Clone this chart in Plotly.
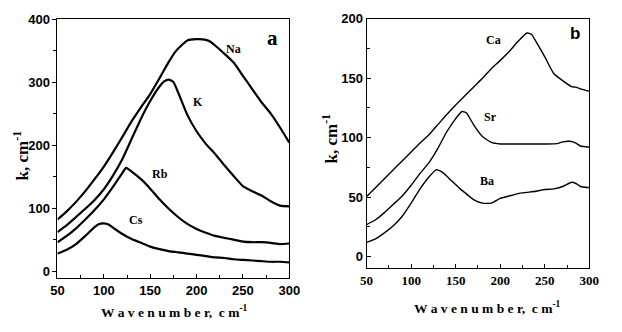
import plotly.graph_objects as go

# ---- panel a data ----
na_x = [50, 60, 70, 80, 90, 100, 110, 120, 130, 140, 150, 160, 170, 177, 185, 190, 200, 210, 215, 220, 230, 240, 250, 260, 270, 280, 290, 300]
na_y = [82, 95, 110, 127, 146, 166, 189, 213, 238, 260, 281, 306, 332, 348, 360, 366, 368, 367, 364, 358, 345, 331, 310, 289, 268, 250, 228, 204]

k_x = [50, 60, 70, 80, 90, 100, 110, 120, 130, 140, 150, 160, 165, 170, 175, 180, 190, 200, 210, 220, 230, 240, 250, 260, 270, 280, 290, 300]
k_y = [62, 73, 86, 99, 113, 130, 152, 178, 210, 242, 270, 293, 301, 304, 300, 284, 248, 222, 202, 186, 168, 151, 135, 127, 120, 111, 104, 103]

rb_x = [50, 60, 70, 80, 90, 100, 110, 120, 124, 130, 140, 150, 160, 170, 180, 190, 200, 210, 220, 230, 240, 250, 260, 270, 280, 290, 300]
rb_y = [46, 56, 68, 82, 97, 114, 134, 156, 164, 158, 146, 131, 114, 99, 86, 75, 67, 61, 56, 53, 50, 47, 46, 46, 45, 43, 44]

cs_x = [50, 60, 70, 80, 90, 95, 100, 105, 110, 120, 130, 140, 150, 160, 170, 180, 190, 200, 210, 220, 230, 240, 250, 260, 270, 280, 290, 300]
cs_y = [28, 34, 43, 56, 70, 75, 76, 74, 69, 59, 51, 45, 39, 35, 32, 30, 28, 26, 24, 22, 21, 19, 18, 17, 16, 15, 15, 14]

# ---- panel b data ----
ca_x = [50, 60, 70, 80, 90, 100, 110, 120, 130, 140, 150, 160, 170, 180, 190, 200, 210, 220, 230, 235, 240, 250, 260, 270, 280, 285, 290, 300]
ca_y = [50.5, 58, 65.5, 73, 80.5, 88, 95.5, 102.5, 111, 119.5, 127.5, 135, 142.5, 150, 158, 165, 172.5, 181, 188, 187, 181, 168, 154, 148, 143, 142.5, 141, 139]

sr_x = [50, 60, 70, 80, 90, 100, 110, 120, 130, 140, 150, 157, 162, 170, 180, 190, 200, 210, 230, 250, 264, 270, 278, 285, 290, 300]
sr_y = [27, 31, 37, 44, 51, 60, 70, 79, 91, 105, 116, 122, 121, 111, 101, 96, 94.7, 94.7, 94.7, 94.7, 95, 96.5, 97, 95.5, 93, 92]

ba_x = [50, 60, 70, 80, 90, 100, 110, 120, 128, 135, 145, 155, 160, 170, 180, 190, 200, 210, 220, 230, 240, 250, 260, 270, 280, 285, 290, 300]
ba_y = [12, 15, 20, 26, 34, 45, 57, 67, 73, 71, 64, 57, 54, 48, 45, 45, 49, 51, 53, 54, 55, 56.5, 57, 59, 62.5, 61.5, 59, 58]

tick_vals_a = [0, 100, 200, 300, 400]
tick_vals_b = [0, 50, 100, 150, 200]
x_ticks = [50, 100, 150, 200, 250, 300]

W, H = 622, 332
SANS = "Liberation Sans"
SERIF = "Liberation Serif"

fig = go.Figure()

for xs, ys in [(na_x, na_y), (k_x, k_y), (rb_x, rb_y), (cs_x, cs_y)]:
    fig.add_trace(go.Scatter(x=xs, y=ys, mode="lines", xaxis="x", yaxis="y",
                             line=dict(color="black", width=2.2, shape="spline", smoothing=0.5),
                             showlegend=False, hoverinfo="skip"))
for xs, ys in [(ca_x, ca_y), (sr_x, sr_y), (ba_x, ba_y)]:
    fig.add_trace(go.Scatter(x=xs, y=ys, mode="lines", xaxis="x2", yaxis="y2",
                             line=dict(color="black", width=1.4, shape="spline", smoothing=0.5),
                             showlegend=False, hoverinfo="skip"))

def px_dom_x(a, b):
    return [a / W, b / W]

def px_dom_y(top, bottom):
    return [1 - bottom / H, 1 - top / H]

axis_common = dict(showline=True, linecolor="black", linewidth=1, mirror=True,
                   showgrid=False, zeroline=False, ticklen=4, tickwidth=1, tickcolor="black")

fig.update_layout(
    width=W, height=H,
    margin=dict(l=0, r=0, t=0, b=0),
    paper_bgcolor="white", plot_bgcolor="white",
    xaxis=dict(domain=px_dom_x(52, 290.7), range=[50, 300], tickvals=x_ticks,
               ticks="inside", minor=dict(dtick=25, ticklen=3, ticks="inside", tickcolor="black"),
               tickfont=dict(family=SANS, size=13, color="black", weight="bold"),
               anchor="y", **axis_common),
    yaxis=dict(domain=px_dom_y(12.3, 277), range=[-11, 400], tickvals=tick_vals_a,
               ticks="outside", minor=dict(dtick=50, ticklen=3, ticks="outside", tickcolor="black"),
               tickfont=dict(family=SANS, size=13, color="black", weight="bold"),
               anchor="x", **axis_common),
    xaxis2=dict(domain=px_dom_x(370.3, 599.7), range=[50, 300], tickvals=x_ticks,
                ticks="inside", minor=dict(dtick=25, ticklen=3, ticks="inside", tickcolor="black"),
                tickfont=dict(family=SERIF, size=13, color="black", weight="bold"),
                anchor="y2", **axis_common),
    yaxis2=dict(domain=px_dom_y(12, 266.7), range=[-9.6, 200], tickvals=tick_vals_b,
                ticks="inside", minor=dict(dtick=25, ticklen=3, ticks="inside", tickcolor="black"),
                tickfont=dict(family=SANS, size=13, color="black", weight="bold"),
                anchor="x2", **axis_common),
)

def ann(text, x, y, xref, yref, size, family=SERIF, angle=0):
    fig.add_annotation(text=text, x=x, y=y, xref=xref, yref=yref, showarrow=False,
                       font=dict(family=family, size=size, color="black", weight="bold"),
                       textangle=angle, xanchor="center", yanchor="middle")

# curve labels panel a
ann("Na", 240, 352, "x", "y", 12)
ann("K", 202, 268, "x", "y", 12)
ann("Rb", 161, 154, "x", "y", 12)
ann("Cs", 135, 81, "x", "y", 12)
ann("a", 282, 370, "x", "y", 21)
# curve labels panel b
ann("Ca", 192, 182, "x2", "y2", 12)
ann("Sr", 189, 117, "x2", "y2", 12)
ann("Ba", 185, 64, "x2", "y2", 12)
ann("b", 284, 188, "x2", "y2", 17, family=SANS)

# axis titles
ytitle = "k, cm<sup>-1</sup>"
xtitle = "W a v e n u m b e r,  c m<sup>-1</sup>"
ann(ytitle, 14 / W, 1 - 152 / H, "paper", "paper", 17, angle=-90)
ann(ytitle, 333 / W, 1 - 134 / H, "paper", "paper", 17, angle=-90)
ann(xtitle, 172 / W, 1 - 311 / H, "paper", "paper", 13.5)
ann(xtitle, 495 / W, 1 - 307 / H, "paper", "paper", 13.5)

fig.write_html("out.html")
